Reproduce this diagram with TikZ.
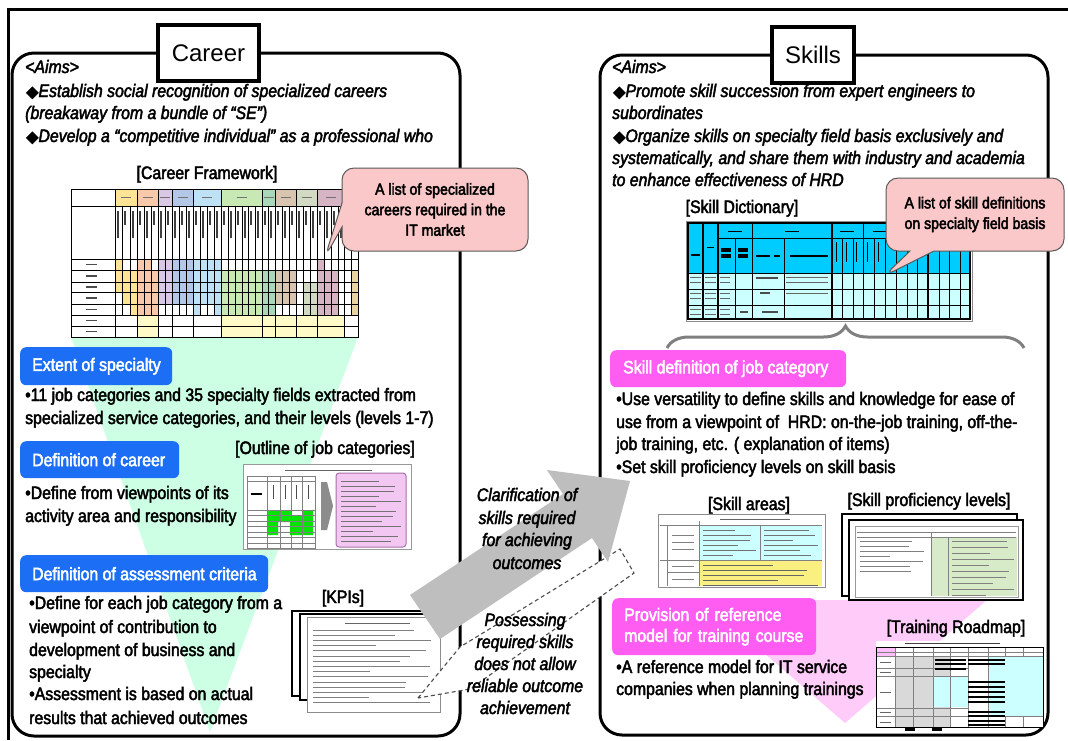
\documentclass[tikz,border=0pt]{standalone}
\usepackage{fontspec}
\setmainfont[FakeStretch=0.88]{Liberation Sans}
\newfontfamily\titlefont{Liberation Sans}
\newfontfamily\symfont{DejaVu Sans}
\usetikzlibrary{shapes.callouts,decorations.pathreplacing}

\definecolor{boxblue}{RGB}{28,110,245}
\definecolor{boxpink}{RGB}{255,92,242}
\definecolor{funnelmint}{RGB}{204,255,228}
\definecolor{funnelpink}{RGB}{255,204,250}
\definecolor{notepink}{RGB}{250,200,200}
\definecolor{arrowgray}{RGB}{190,190,190}
\definecolor{dictcyan}{RGB}{0,204,255}
\definecolor{dictpale}{RGB}{204,255,255}
\definecolor{cfYel}{RGB}{255,228,150}
\definecolor{cfSal}{RGB}{248,200,170}
\definecolor{cfLav}{RGB}{216,200,230}
\definecolor{cfBlu}{RGB}{180,199,231}
\definecolor{cfSky}{RGB}{190,225,245}
\definecolor{cfGrn}{RGB}{200,232,180}
\definecolor{cfTea}{RGB}{168,216,185}
\definecolor{cfTan}{RGB}{217,196,176}
\definecolor{cfSag}{RGB}{210,218,195}
\definecolor{cfMau}{RGB}{215,180,196}
\definecolor{cfOch}{RGB}{232,212,160}
\definecolor{cfPale}{RGB}{255,250,200}
\definecolor{roadgray}{RGB}{217,217,217}
\definecolor{okgreen}{RGB}{0,230,0}
\definecolor{cardpurple}{RGB}{242,200,242}
\definecolor{cardedge}{RGB}{170,110,170}
\definecolor{levelgreen}{RGB}{215,235,200}
\definecolor{areayellow}{RGB}{250,240,130}

% slightly heavier glyphs: fill and stroke the outlines
\newcommand\heavytext{\special{pdf:literal direct 2 Tr 0.45 w}}
% diamond bullet of the aims
\newcommand\dmd{{\symfont\upshape\fontsize{16}{18}\selectfont ◆}}
% rows of tiny grey strokes standing for unreadable print
\newcommand\scrib[6]{%
  \foreach \k in {0,...,#5}{%
    \pgfmathsetmacro\yy{#3+\k*#4}%
    \pgfmathsetmacro\xe{#1+(#2-#1)*(0.45+0.55*abs(sin(\k*73+#1)))}%
    \draw[#6, line width=0.9pt] (#1,\yy) -- (\xe,\yy);}}

\begin{document}
\begin{tikzpicture}[x=1pt,y=-1pt,
  framestroke/.style={line width=3pt},
  panel/.style={line width=3pt, rounded corners=22pt},
  titlebox/.style={draw, line width=3.5pt, fill=white, inner sep=0pt,
    font=\titlefont\fontsize{24}{28}\selectfont},
  txt/.style={anchor=base west, inner sep=0pt, font=\fontsize{18}{22}\selectfont\heavytext},
  ita/.style={anchor=base west, inner sep=0pt, font=\fontsize{18}{22}\selectfont\itshape\heavytext},
  lbl/.style={anchor=base, inner sep=0pt, font=\fontsize{18}{22}\selectfont\heavytext},
  midtxt/.style={anchor=base, inner sep=0pt, font=\fontsize{18}{22}\selectfont\itshape\heavytext},
  secbox/.style={anchor=north west, rounded corners=6pt, inner xsep=12pt, inner ysep=0pt,
    text=white, align=left, font=\fontsize{18}{21}\selectfont\heavytext},
  bluebox/.style={secbox, fill=boxblue},
  pinkbox/.style={secbox, fill=boxpink},
  note/.style={rectangle callout, fill=notepink, draw=black!65, line width=1pt,
    rounded corners=12pt, callout pointer width=24pt, align=center,
    font=\fontsize{16}{20.5}\selectfont\heavytext, inner sep=0pt},
  gridline/.style={line width=0.7pt},
  sheet/.style={draw, fill=white, line width=1.2pt},
  hair/.style={black!50, line width=0.5pt}]

\useasboundingbox (0,0) rectangle (1068,740);
\fill[white] (0,0) rectangle (1068,740);

% ---------- funnels behind the sections ----------
\fill[funnelmint] (71,337) -- (358,337) -- (210,732) -- cycle;
\fill[funnelpink] (703,600) -- (987,600) -- (845,723) -- cycle;

% ---------- frame and the two panels ----------
\draw[framestroke] (8,740) -- (8,9) -- (1068,9);
\draw[panel] (12,53) rectangle (460,736);
\draw[panel] (600,55) rectangle (1048,735);
\node[titlebox, minimum width=101pt, minimum height=56pt] (career) at (208.5,53) {Career};
\node[titlebox, minimum width=82pt, minimum height=56pt] (skills) at (813,55) {Skills};

% ---------- Career: aims ----------
\node[ita] (caims) at (25,73) {<Aims>};
\node[ita] (ca1) at (26,97) {\dmd Establish social recognition of specialized careers};
\node[ita] (ca2) at (25,119) {(breakaway from a bundle of “SE”)};
\node[ita] (ca3) at (26,142) {\dmd Develop a “competitive individual” as a professional who};

% ---------- Career Framework table ----------
\node[lbl] (cflabel) at (207,179) {[Career Framework]};
\fill[cfYel] (115,189) rectangle (137,206);
\fill[cfSal] (137,189) rectangle (158,206);
\fill[cfLav] (158,189) rectangle (172,206);
\fill[cfBlu] (172,189) rectangle (193,206);
\fill[cfSky] (193,189) rectangle (221,206);
\fill[cfGrn] (221,189) rectangle (262,206);
\fill[cfTea] (262,189) rectangle (275,206);
\fill[cfTan] (275,189) rectangle (296,206);
\fill[cfSag] (296,189) rectangle (317,206);
\fill[cfMau] (317,189) rectangle (344,206);
\fill[cfYel] (115,259) rectangle (122,292);
\fill[cfYel] (122,270) rectangle (130,304);
\fill[cfYel] (130,270) rectangle (137,315);
\fill[cfSal] (137,259) rectangle (151,315);
\fill[cfSal] (151,270) rectangle (158,315);
\fill[cfPale] (137,315) rectangle (158,337);
\fill[cfLav] (158,259) rectangle (172,304);
\fill[cfBlu] (172,259) rectangle (193,304);
\fill[cfSky] (193,259) rectangle (200,315);
\fill[cfSky] (200,259) rectangle (214,304);
\fill[cfSky] (214,259) rectangle (221,315);
\fill[cfGrn] (221,270) rectangle (262,315);
\fill[cfPale] (221,315) rectangle (262,337);
\fill[cfTea] (262,270) rectangle (275,315);
\fill[cfPale] (262,315) rectangle (275,337);
\fill[cfTan] (275,270) rectangle (296,304);
\fill[cfPale] (275,315) rectangle (296,337);
\fill[cfSag] (303,282) rectangle (317,315);
\fill[cfPale] (296,315) rectangle (317,337);
\fill[cfMau] (317,259) rectangle (324,315);
\fill[cfMau] (324,270) rectangle (338,315);
\fill[cfPale] (317,315) rectangle (344,337);
\fill[cfOch] (351,270) rectangle (358,315);
\foreach \yy in {206,259,270,282,292,304,315,326}
  \draw[gridline] (71,\yy) -- (358,\yy);
\foreach \xx in {115,137,158,172,193,221,262,275,296,317,344}
  \draw[gridline] (\xx,189) -- (\xx,337);
\foreach \xx in {122,130,144,151,165,179,186,200,207,214,228,235,242,248,255,268,282,289,303,310,324,331,338,351}
  \draw[gridline] (\xx,206) -- (\xx,315);
\draw[line width=1pt] (71,189) rectangle (358,337);
\foreach \cx [count=\i] in {115,122,130,137,144,151,158,165,172,179,186,193,200,207,214,221,228,235,242,248,255,262,268,275,282,289,296,303,310,317,324,331,338,344,351}{
  \pgfmathsetmacro\ll{14+mod(\i*13,26)}
  \draw[line width=1.1pt, black!75] (\cx+3,211) -- (\cx+3,211+\ll);}
\foreach \ry in {264.5,276,287,298,309.5,320.5,331.5}
  \draw[line width=1.6pt, black!70] (86,\ry) -- (97,\ry);
\foreach \hx in {126,147.5,165,182.5,207,241.5,268.5,285.5,306.5,330.5}
  \draw[line width=1pt, black!55] (\hx-5,197.5) -- (\hx+5,197.5);

% ---------- Career: sections ----------
\node[bluebox, minimum height=38pt] (extent) at (20,347) {\makebox[128pt][l]{Extent of specialty}};
\node[txt] (e1) at (25,401) {•11 job categories and 35 specialty fields extracted from};
\node[txt] (e2) at (25,424) {specialized service categories, and their levels (levels 1-7)};

\node[bluebox, minimum height=37pt] (defcar) at (20,441) {\makebox[135pt][l]{Definition of career}};
\node[lbl] (outlabel) at (325,454) {[Outline of job categories]};
\node[txt] (d1) at (25,499) {•Define from viewpoints of its};
\node[txt] (d2) at (25,522) {activity area and responsibility};

% outline of job categories thumbnail
\draw[black!40, fill=white, line width=1pt] (243,464) rectangle (411,549);
\draw[line width=1pt, black!60] (285,470) -- (372,470);
\fill[okgreen] (267,510) -- (291,510) -- (291,515) -- (302,515) -- (302,510) -- (313,510)
  -- (313,535) -- (290,535) -- (290,522) -- (278,522) -- (278,535) -- (267,535) -- cycle;
\draw[hair] (247,476) rectangle (315,548);
\foreach \xx in {267,280,291,302} \draw[hair] (\xx,476) -- (\xx,548);
\foreach \yy in {481,510,515.5,521,526.5,532,537.5,543} \draw[hair] (247,\yy) -- (315,\yy);
\foreach \xx in {273,285,296,308} \draw[black!70, line width=0.8pt] (\xx,485) -- (\xx,499);
\draw[black, line width=1.5pt] (251,494) -- (262,494);
\fill[black!45] (321,482) -- (327,482) -- (333,506) -- (327,530) -- (321,530) -- cycle;
\draw[draw=cardedge, fill=cardpurple, line width=1pt, rounded corners=3pt] (336,473) rectangle (406,547);
\scrib{341}{401}{481}{5}{12}{black!55}

\node[bluebox, minimum height=37pt] (defass) at (20,555) {\makebox[224pt][l]{Definition of assessment criteria}};
\node[txt] (k1) at (29,609) {•Define for each job category from a};
\node[txt] (k2) at (29,633) {viewpoint of contribution to};
\node[txt] (k3) at (29,656) {development of business and};
\node[txt] (k4) at (29,678) {specialty};
\node[txt] (k5) at (29,700) {•Assessment is based on actual};
\node[txt] (k6) at (29,724) {results that achieved outcomes};

% KPI sheets
\node[lbl] (kpilabel) at (343,603) {[KPIs]};
\draw[sheet] (292,611) rectangle (428,696);
\draw[sheet] (300,614) rectangle (434,700);
\draw[black!45, fill=white, line width=1pt] (307,617) rectangle (440,712);
\draw[line width=1pt, black!60] (345,623) -- (410,623);
\scrib{313}{432}{630}{5.2}{14}{black!50}

% ---------- Skills: aims ----------
\node[ita] (saims) at (612,73) {<Aims>};
\node[ita] (sa1) at (613,97) {\dmd Promote skill succession from expert engineers to};
\node[ita] (sa2) at (612,119) {subordinates};
\node[ita] (sa3) at (613,142) {\dmd Organize skills on specialty field basis exclusively and};
\node[ita] (sa4) at (612,164) {systematically, and share them with industry and academia};
\node[ita] (sa5) at (612,186) {to enhance effectiveness of HRD};

% ---------- Skill Dictionary table ----------
\node[lbl] (sdlabel) at (742,213) {[Skill Dictionary]};
\fill[dictcyan] (688,223) rectangle (970,273);
\fill[dictpale] (688,273) rectangle (970,319);
\foreach \yy in {273,289,305} \draw[gridline] (688,\yy) -- (970,\yy);
\draw[gridline] (718,238) -- (970,238);
\foreach \xx in {735,784,842,853,874,885,896,907,917,939,949,960} \draw[gridline] (\xx,238) -- (\xx,319);
\foreach \xx in {752,863} \draw[gridline] (\xx,223) -- (\xx,319);
\foreach \xx in {703,718,832,928} \draw[line width=1.6pt] (\xx,223) -- (\xx,319);
\draw[line width=1.2pt] (688,223) rectangle (970,319);
\draw[black!45, line width=1pt] (686,221) rectangle (972,321);
\foreach \xx in {735,792,847,880} \draw[line width=1pt] (\xx-7,231) -- (\xx+7,231);
\draw[line width=1.2pt] (691,255) -- (700,255);
\draw[line width=1pt] (707,247) -- (714,247);
\foreach \xx in {721,738} {\fill (\xx,248) rectangle (\xx+10,252); \fill (\xx,254) rectangle (\xx+10,258);}
\draw[line width=1.2pt] (756,256) -- (770,256) (774,256) -- (780,256) (790,256) -- (828,256);
\foreach \xx in {836,846,856,867,878} \draw[line width=1pt] (\xx,242) -- (\xx,262);
\foreach \yy in {277,282,293,298,309,314} {
  \draw[black!60, line width=1pt] (690,\yy) -- (701,\yy) (705,\yy) -- (716,\yy) (720,\yy) -- (730,\yy);}
\foreach \yy in {277,282,293} \draw[black!60, line width=1pt] (786,\yy) -- (828,\yy);
\draw[black!70, line width=1.2pt] (756,278) -- (778,278) (760,293) -- (770,293) (740,312) -- (748,312) (762,312) -- (778,312);

% ---------- Skills: sections ----------
\draw[decorate, decoration={brace, amplitude=22pt}, line width=3pt, draw=black!50] (667,348) -- (1024,348);
\node[pinkbox, minimum height=37pt, inner xsep=13pt] (skdef) at (610,350) {\makebox[210pt][l]{Skill definition of job category}};
\node[txt] (u1) at (616,405) {•Use versatility to define skills and knowledge for ease of};
\node[txt] (u2) at (616,428) {use from a viewpoint of~ HRD: on-the-job training, off-the-};
\node[txt] (u3) at (616,450) {job training, etc. ( explanation of items)};
\node[txt] (u4) at (616,473) {•Set skill proficiency levels on skill basis};

% skill areas thumbnail
\node[lbl] (salabel) at (749,510) {[Skill areas]};
\draw[black!45, fill=white, line width=1pt] (658,514) rectangle (825,587);
\fill[dictpale] (699,525) rectangle (822,560);
\fill[areayellow] (699,560) rectangle (822,586);
\draw[hair] (667,525) -- (667,586) (699,521) -- (699,586) (660,525) -- (822,525)
  (660,560) -- (822,560) (760,525) -- (760,560) (667,572) -- (699,572);
\draw[line width=0.8pt, black!60] (720,519) -- (790,519);
\scrib{703}{756}{530}{5}{5}{black!55}
\scrib{764}{818}{530}{5}{5}{black!55}
\scrib{703}{818}{565}{5}{4}{black!60}
\foreach \yy in {535,542,549,566,579} \draw[black!50, line width=0.8pt] (672,\yy) -- (694,\yy);

% skill proficiency levels thumbnail
\node[lbl] (splabel) at (929,506) {[Skill proficiency levels]};
\draw[sheet] (842,514) rectangle (1017,596);
\draw[sheet] (849,520) rectangle (1023,600);
\draw[black!40, fill=white, line width=0.8pt] (855,526) rectangle (1018,597);
\fill[levelgreen] (931,537) rectangle (1017,596);
\draw[hair] (857,532) -- (1016,532) (857,537) -- (1016,537) (931,532) -- (931,596) (948,537) -- (948,596);
\scrib{860}{925}{541}{5}{6}{black!50}
\scrib{952}{1014}{541}{6}{9}{black!50}

% reference model section
\node[pinkbox, text width=180pt, minimum height=57pt] (refmod) at (612,598) {Provision of reference\\model for training course};
\node[txt] (r1) at (616,673) {•A reference model for IT service};
\node[txt] (r2) at (616,695) {companies when planning trainings};

% training roadmap thumbnail
\node[lbl] (trlabel) at (956,633) {[Training Roadmap]};
\fill[white] (876,641) rectangle (1043,727);
\draw[line width=1.4pt, black!75] (905,643.5) -- (1000,643.5);
\fill[boxpink!40] (876,647) rectangle (895,656);
\fill[roadgray] (895,656) rectangle (950,727);
\fill[dictpale] (933,677) rectangle (968,707);
\fill[dictpale] (988,656) rectangle (1043,716);
\foreach \xx in {895,913,933,950,968,988} \draw[hair] (\xx,647) -- (\xx,727);
\foreach \xx in {1005,1023} \draw[hair] (\xx,647) -- (\xx,656) (\xx,716) -- (\xx,727);
\draw[hair] (876,652) -- (1043,652) (876,656) -- (1043,656) (988,716) -- (1043,716);
\foreach \yy in {668,676,708,716} \draw[hair] (876,\yy) -- (968,\yy);
\draw[line width=0.9pt] (876,647) rectangle (1043,727);
\foreach \yy in {659,663,681,686,691,696,701,711,715,720,724} \fill (968,\yy) rectangle (1005,\yy+2.2);
\foreach \yy in {659,663,668} \fill (935,\yy) rectangle (966,\yy+2);
\foreach \yy in {662,672,692,712,722} \draw[line width=0.8pt, black!60] (880,\yy) -- (891,\yy);
\fill (905,728) rectangle (915,731);
\fill (932,728) rectangle (942,731);

% ---------- links between the panels ----------
\draw[black!70, line width=1.1pt, dash pattern=on 4pt off 3pt, fill=white]
  (418,698) -- (460,647) -- (620,549) -- (634,573) -- (470,689) -- cycle;
\fill[arrowgray] (410,595) -- (563,494) -- (547,470) -- (630,481) -- (608,562) -- (592,538) -- (440,639) -- cycle;
\node[midtxt] (m1) at (527,501) {Clarification of};
\node[midtxt] (m2) at (527,524) {skills required};
\node[midtxt] (m3) at (527,546) {for achieving};
\node[midtxt] (m4) at (527,569) {outcomes};
\node[midtxt] (n1) at (525,626) {Possessing};
\node[midtxt] (n2) at (525,648) {required skills};
\node[midtxt] (n3) at (525,670) {does not allow};
\node[midtxt] (n4) at (525,692) {reliable outcome};
\node[midtxt] (n5) at (525,714) {achievement};

% ---------- callouts ----------
\node[note, minimum width=186pt, minimum height=83pt, callout absolute pointer={(325,257)}] (cfnote) at (435,209.5)
  {A list of specialized\\careers required in the\\IT market};
\node[note, minimum width=178pt, minimum height=73pt, callout absolute pointer={(884,276)}] (sdnote) at (975,214.5)
  {A list of skill definitions\\on specialty field basis};
\end{tikzpicture}
\end{document}
